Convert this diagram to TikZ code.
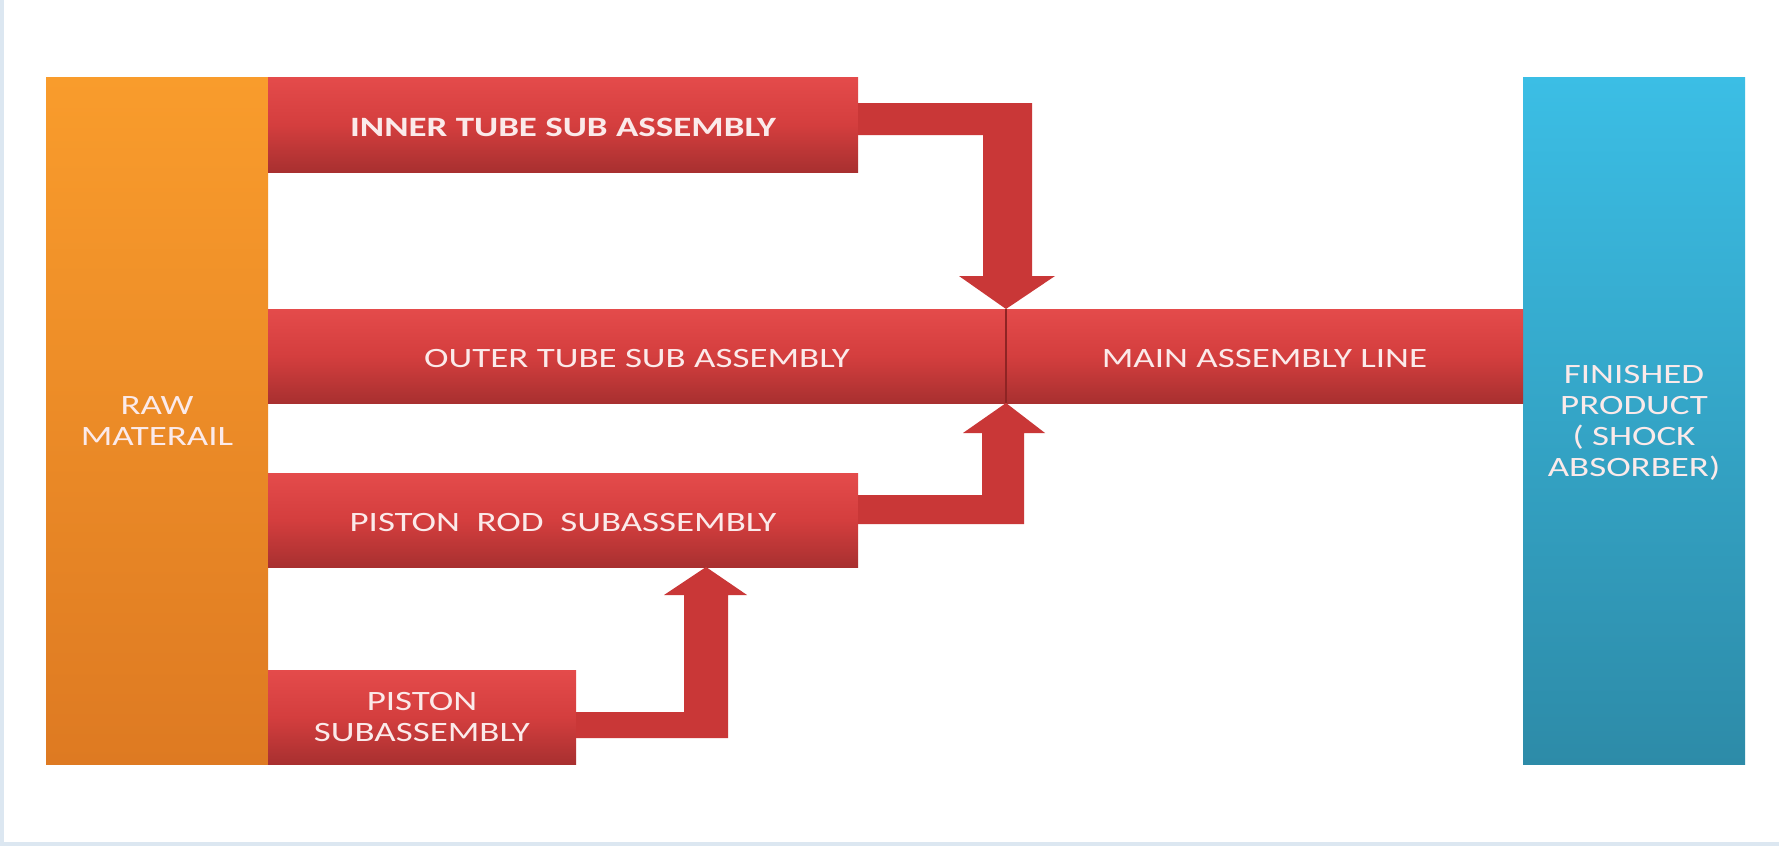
\documentclass[tikz,border=0pt]{standalone}
\usepackage{fontspec}
\usepackage{graphicx}
\setmainfont{Carlito}
\usetikzlibrary{fit,calc}
\definecolor{bgblue}{HTML}{DCE7F1}
\definecolor{barTop}{HTML}{E44B4B}
\definecolor{barMid}{HTML}{D43E3E}
\definecolor{barBot}{HTML}{A83030}
\definecolor{arrowRed}{HTML}{C93737}
\definecolor{divRed}{HTML}{8E2424}
\definecolor{orTop}{HTML}{F99C2C}
\definecolor{orBot}{HTML}{DE7A22}
\definecolor{blTop}{HTML}{3BBEE5}
\definecolor{blBot}{HTML}{2D8BA8}
\definecolor{txt}{HTML}{FBEAEA}
\newcommand\sx[1]{\scalebox{1.32}[1]{#1}}
\newcommand\ml[1]{\sx{\begin{tabular}{@{}c@{}}#1\end{tabular}}}
\tikzset{
  box/.style={inner sep=0pt, outer sep=0pt, draw=none},
  bar/.style={box, top color=barTop, bottom color=barBot, middle color=barMid},
  rawbox/.style={box, top color=orTop, bottom color=orBot},
  finbox/.style={box, top color=blTop, bottom color=blBot},
  blockarrow/.style={fill=arrowRed, draw=none},
  lbl/.style={inner sep=0pt, text=txt, yshift=-1.5pt, font=\fontsize{14}{15.5}\selectfont}
}
\begin{document}
\begin{tikzpicture}[x=0.5pt,y=-0.5pt]
\useasboundingbox (0,0) rectangle (1779,846);
\fill[bgblue] (0,0) rectangle (1779,846);
\fill[white] (4,0) rectangle (1779,842);

% boxes
\node[rawbox, fit={(46,77)(268,764)}] (raw) {};
\node[finbox, fit={(1523,77)(1745,764)}] (fin) {};
\node[bar, fit={(268,77)(858,172)}] (inner) {};
\node[bar, fit={(268,309)(1006,403)}] (outer) {};
\node[bar, fit={(1006,309)(1523,403)}] (main) {};
\node[bar, fit={(268,473)(858,567)}] (rod) {};
\node[bar, fit={(268,670)(576,764)}] (piston) {};

% labels
\node[lbl] (rawtext) at (raw.center) {\ml{RAW\\MATERAIL}};
\node[lbl] (fintext) at (fin.center) {\ml{FINISHED\\PRODUCT\\( SHOCK\\ABSORBER)}};
\node[lbl] (innertext) at (inner.center) {\sx{\bfseries INNER TUBE SUB ASSEMBLY}};
\node[lbl] (outertext) at (outer.center) {\sx{OUTER TUBE SUB ASSEMBLY}};
\node[lbl] (maintext) at (main.center) {\sx{MAIN ASSEMBLY LINE}};
\node[lbl] (rodtext) at (rod.center) {\sx{PISTON\ \ ROD\ \ SUBASSEMBLY}};
\node[lbl] (pistontext) at (piston.center) {\ml{PISTON\\SUBASSEMBLY}};

\draw[divRed, line width=1.2pt] (outer.north east) -- (outer.south east);

% inner tube -> main line (down arrow)
\fill[blockarrow] (inner.east |- 0,103) -- (1032,103) -- (1032,276) -- (1055,276)
  -- (outer.north east) -- (959,276) -- (983,276) -- (983,135) -- (inner.east |- 0,135) -- cycle;

% piston rod -> main line (up arrow)
\fill[blockarrow] (rod.east |- 0,524) -- (1024,524) -- (1024,433) -- (1045,433)
  -- (outer.south east) -- (963,433) -- (982,433) -- (982,495) -- (rod.east |- 0,495) -- cycle;

% piston -> piston rod (up arrow)
\coordinate (ptip) at (rod.south west -| 706,0);
\fill[blockarrow] (piston.east |- 0,738) -- (728,738) -- (728,595) -- (747,595)
  -- (ptip) -- (664,595) -- (684,595) -- (684,712) -- (piston.east |- 0,712) -- cycle;
\end{tikzpicture}
\end{document}
